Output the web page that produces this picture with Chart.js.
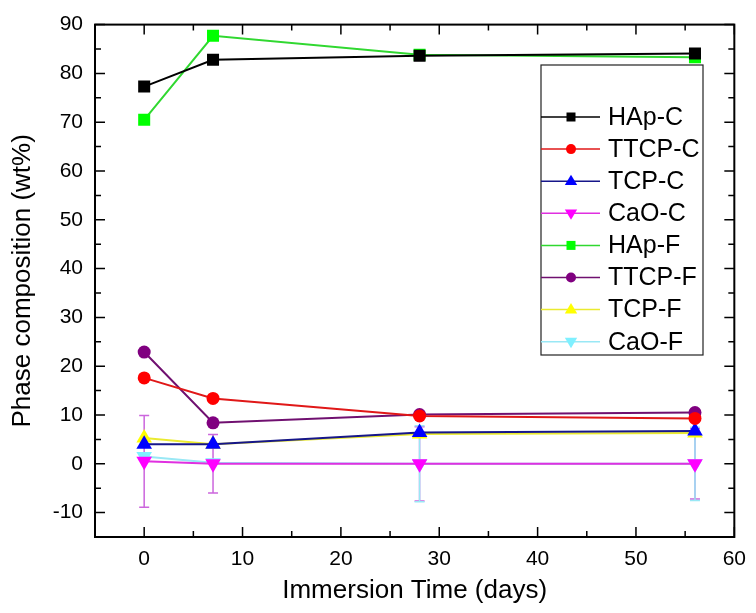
<!DOCTYPE html>
<html>
<head>
	<script src="https://cdn.jsdelivr.net/npm/chart.js@4.4.1/dist/chart.umd.min.js"></script>
	<style>
		html, body { margin: 0; padding: 0; background: #fff; }
		#wrapper { width: 756px; height: 613px; }
	</style>
</head>
<body>
<div id="wrapper"><canvas id="myChart"></canvas></div>
<script>
// immersion days
var days = [0, 7, 28, 56];

// phase composition (wt%)
var hapC  = [77.3, 82.8, 83.6, 84.1];
var ttcpC = [17.6, 13.4, 9.8, 9.3];
var tcpC  = [4.0, 4.0, 6.4, 6.7];
var caoC  = [0.5, 0.0, 0.0, 0.0];
var hapF  = [70.5, 87.7, 83.8, 83.3];
var ttcpF = [22.9, 8.4, 10.1, 10.5];
var tcpF  = [5.3, 4.0, 6.1, 6.3];
var caoF  = [1.5, 0.2, 0.0, 0.0];

// error bars (+/-)
var caoCErr = [9.4, 6.0, 7.6, 7.2];
var caoFErr = [0, 0, 7.8, 7.5];

var xTicks = [0, 10, 20, 30, 40, 50, 60];
var yTicks = [-10, 0, 10, 20, 30, 40, 50, 60, 70, 80, 90];

var FONT = "'Liberation Sans', Arial, sans-serif";

function pts(vals){
	return days.map(function(d, i){ return {x: d, y: vals[i]}; });
}

function ds(label, vals, line, fill, style, radius, rot, err, errColor){
	return {
		label: label,
		data: pts(vals),
		borderColor: line,
		backgroundColor: fill,
		pointBackgroundColor: fill,
		pointBorderColor: fill,
		pointBorderWidth: 0,
		borderWidth: 2,
		pointStyle: style,
		pointRadius: radius,
		pointHoverRadius: radius,
		pointRotation: rot || 0,
		errors: err,
		errColor: errColor,
		fill: false,
		tension: 0
	};
}

var datasets = [
	ds('HAp-C',  hapC,  '#000000', '#000000', 'rect', 8.5),
	ds('TTCP-C', ttcpC, '#e01818', '#ff0000', 'circle', 6.5),
	ds('TCP-C',  tcpC,  '#16168a', '#0000ff', 'triangle', 9),
	ds('CaO-C',  caoC,  '#e030e0', '#ff00ff', 'triangle', 9, 180, caoCErr, '#cc66dd'),
	ds('HAp-F',  hapF,  '#30d830', '#00ff00', 'rect', 8.5),
	ds('TTCP-F', ttcpF, '#701070', '#800080', 'circle', 6.5),
	ds('TCP-F',  tcpF,  '#eaea30', '#ffff00', 'triangle', 9),
	ds('CaO-F',  caoF,  '#99e8f5', '#7ff0ff', 'triangle', 9, 180, caoFErr, '#99e8f5')
];

// draws a marker like the ones used in the plot
function marker(ctx, style, x, y, r, rot, color){
	ctx.save();
	ctx.fillStyle = color;
	ctx.beginPath();
	if (style === 'rect') {
		ctx.rect(x - r, y - r, 2 * r, 2 * r);
	} else if (style === 'circle') {
		ctx.arc(x, y, r, 0, Math.PI * 2);
	} else {
		var s = rot === 180 ? -1 : 1;
		ctx.moveTo(x, y - s * r);
		ctx.lineTo(x - r * 0.95, y + s * r * 0.6);
		ctx.lineTo(x + r * 0.95, y + s * r * 0.6);
		ctx.closePath();
	}
	ctx.fill();
	ctx.restore();
}

var errorBars = {
	id: 'errorBars',
	beforeDatasetsDraw: function(chart){
		var ctx = chart.ctx, xs = chart.scales.x, ys = chart.scales.y;
		chart.data.datasets.forEach(function(d){
			if (!d.errors) return;
			ctx.save();
			ctx.strokeStyle = d.errColor;
			ctx.lineWidth = 1.5;
			d.data.forEach(function(p, i){
				var e = d.errors[i];
				if (!e) return;
				var px = xs.getPixelForValue(p.x);
				var top = ys.getPixelForValue(p.y + e);
				var bot = ys.getPixelForValue(p.y - e);
				ctx.beginPath();
				ctx.moveTo(px, top); ctx.lineTo(px, bot);
				ctx.moveTo(px - 5, top); ctx.lineTo(px + 5, top);
				ctx.moveTo(px - 5, bot); ctx.lineTo(px + 5, bot);
				ctx.stroke();
			});
			ctx.restore();
		});
	}
};

var frameTicks = {
	id: 'frameTicks',
	afterDraw: function(chart){
		var ctx = chart.ctx, a = chart.chartArea, xs = chart.scales.x, ys = chart.scales.y;
		ctx.save();
		ctx.strokeStyle = '#000';
		ctx.lineWidth = 2;
		ctx.strokeRect(a.left, a.top, a.right - a.left, a.bottom - a.top);
		ctx.lineWidth = 1.5;
		ctx.beginPath();
		for (var v = -5; v <= 60; v += 5) {
			var px = xs.getPixelForValue(v);
			var len = v % 10 === 0 ? 10 : 6;
			ctx.moveTo(px, a.bottom); ctx.lineTo(px, a.bottom - len);
			ctx.moveTo(px, a.top); ctx.lineTo(px, a.top + len);
		}
		for (var w = -15; w <= 90; w += 5) {
			var py = ys.getPixelForValue(w);
			var l2 = w % 10 === 0 ? 10 : 6;
			ctx.moveTo(a.left, py); ctx.lineTo(a.left + l2, py);
			ctx.moveTo(a.right, py); ctx.lineTo(a.right - l2, py);
		}
		ctx.stroke();
		ctx.restore();
	}
};

var boxLegend = {
	id: 'boxLegend',
	afterDraw: function(chart, args, opts){
		var ctx = chart.ctx;
		ctx.save();
		ctx.fillStyle = '#fff';
		ctx.fillRect(opts.left, opts.top, opts.right - opts.left, opts.bottom - opts.top);
		ctx.strokeStyle = '#222';
		ctx.lineWidth = 1.2;
		ctx.strokeRect(opts.left, opts.top, opts.right - opts.left, opts.bottom - opts.top);
		ctx.font = '25px ' + FONT;
		ctx.textBaseline = 'middle';
		chart.data.datasets.forEach(function(d, i){
			var y = opts.firstRow + i * opts.rowGap;
			ctx.strokeStyle = d.borderColor;
			ctx.lineWidth = 1.5;
			ctx.beginPath();
			ctx.moveTo(opts.left, y); ctx.lineTo(opts.left + 59, y);
			ctx.stroke();
			var r = d.pointStyle === 'rect' ? 4.5 : (d.pointStyle === 'circle' ? 5 : 6.5);
			marker(ctx, d.pointStyle, opts.left + 30, y, r, d.pointRotation, d.pointBackgroundColor);
			ctx.fillStyle = '#000';
			ctx.fillText(d.label, opts.left + 67, y + 1);
		});
		ctx.restore();
	}
};

var ctx = document.getElementById('myChart');
var myChart = new Chart(ctx, {
	type: 'line',
	data: { datasets: datasets },
	plugins: [errorBars, frameTicks, boxLegend],
	options: {
		responsive: true,
		maintainAspectRatio: false,
		animation: false,
		layout: { padding: { top: 17, right: 15, left: 0, bottom: 0 } },
		plugins: {
			legend: { display: false },
			tooltip: { enabled: false },
			boxLegend: { left: 541, top: 65, right: 703, bottom: 355, firstRow: 117, rowGap: 32.1 }
		},
		scales: {
			x: {
				type: 'linear',
				min: -5, max: 60,
				afterBuildTicks: function(s){ s.ticks = xTicks.map(function(v){ return {value: v}; }); },
				afterFit: function(s){ s.height = 76; },
				grid: { display: false, drawTicks: false },
				border: { display: false },
				ticks: { color: '#000', padding: 10, font: { family: FONT, size: 21 }, maxRotation: 0 },
				title: { display: true, text: 'Immersion Time (days)', color: '#000', font: { family: FONT, size: 26 }, padding: { top: 0, bottom: 7 } }
			},
			y: {
				type: 'linear',
				min: -15, max: 90,
				afterBuildTicks: function(s){ s.ticks = yTicks.map(function(v){ return {value: v}; }); },
				afterFit: function(s){ s.width = 95; },
				grid: { display: false, drawTicks: false },
				border: { display: false },
				ticks: { color: '#000', padding: 12, font: { family: FONT, size: 21 } },
				title: { display: true, text: 'Phase composition (wt%)', color: '#000', font: { family: FONT, size: 26 }, padding: { top: 7, bottom: 0 } }
			}
		}
	}
});
</script>
</body>
</html>
